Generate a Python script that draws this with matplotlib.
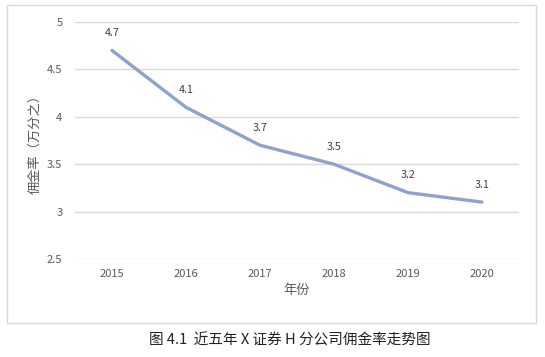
import matplotlib.pyplot as plt
from matplotlib.patches import Rectangle

plt.rcParams['font.family'] = ['Noto Sans CJK SC', 'DejaVu Sans']

years = ['2015', '2016', '2017', '2018', '2019', '2020']
rates = [4.7, 4.1, 3.7, 3.5, 3.2, 3.1]
yticks = [2.5, 3, 3.5, 4, 4.5, 5]

W, H = 545, 357
fig = plt.figure(figsize=(W / 100, H / 100), dpi=100)

# chart border box
fig.patches.append(Rectangle((7 / W, 1 - 323 / H), (536 - 7) / W, (323 - 5) / H,
                             transform=fig.transFigure, fill=False,
                             edgecolor='#d9d9d9', linewidth=1))

ax = fig.add_axes([75 / W, 1 - 259 / H, (519 - 75) / W, (259 - 22) / H])
x = list(range(len(years)))
ax.plot(x, rates, color='#8ea3cb', linewidth=2.4, solid_capstyle='round')
for xi, v in zip(x, rates):
    ax.annotate(f'{v}', (xi, v), xytext=(0, 9), textcoords='offset points',
                ha='center', va='bottom', fontsize=7.8, color='#404040')

ax.set_xlim(-0.5, len(years) - 0.5)
ax.set_ylim(2.5, 5)
ax.set_yticks(yticks)
ax.set_yticklabels([f'{t:g}' for t in yticks])
ax.set_xticks(x)
ax.set_xticklabels(years)
ax.grid(axis='y', color='#d9d9d9', linewidth=1)
ax.set_axisbelow(True)
for s in ax.spines.values():
    s.set_visible(False)
ax.tick_params(length=0, labelsize=8, colors='#595959', pad=7)
ax.tick_params(axis='y', pad=9)

ax.set_ylabel('佣金率（万分之）', fontsize=9.5, color='#595959', labelpad=4)
ax.set_xlabel('年份', fontsize=9.5, color='#595959', labelpad=4)

fig.text(290 / W, 1 - 341 / H, '图 4.1  近五年 X 证券 H 分公司佣金率走势图',
         ha='center', va='center', fontsize=10.5, color='#222222')

fig.savefig('out.png', dpi=100)
